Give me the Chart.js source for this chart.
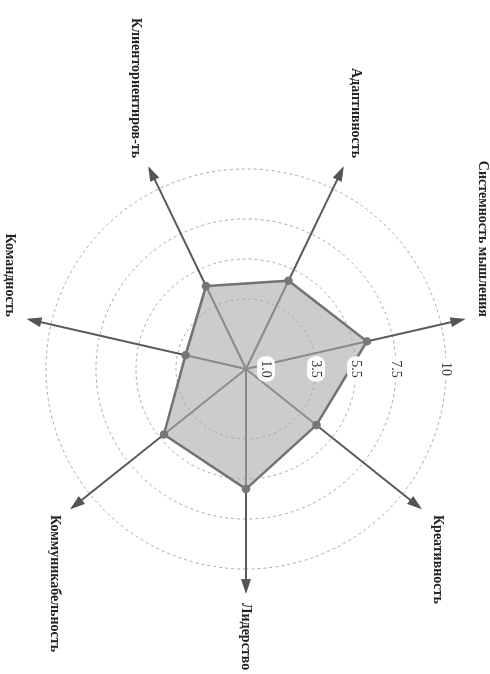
<!DOCTYPE html>
<html>
<head>
<meta charset="utf-8">
<script src="https://cdn.jsdelivr.net/npm/chart.js@4"></script>
<style>
  html, body { margin: 0; padding: 0; background: #fff; overflow: hidden; }
  body { width: 490px; height: 674px; position: relative; }
  #wrap { position: absolute; left: -115px; top: 118px; width: 720px; height: 490px; transform: rotate(90deg); }
</style>
</head>
<body>
<div id="wrap"><canvas id="radarChart" width="720" height="490"></canvas></div>
<script>
const categories = ['Системность мышления', 'Креативность', 'Лидерство', 'Коммуникабельность', 'Командность', 'Клиенториентиров-ть', 'Адаптивность'];
const scores = [6.2, 4.5, 6.0, 5.25, 3.1, 4.6, 4.9];
const tickValues = [1, 3.5, 5.5, 7.5, 10];
const tickLabels = ['1.0', '3.5', '5.5', '7.5', '10'];

document.addEventListener("DOMContentLoaded", function() {
    // arrowheads at the ends of the axis lines
    const arrowPlugin = {
        id: 'arrows',
        afterDraw(chart) {
            const s = chart.scales.r;
            const ctx = chart.ctx;
            const r = s.drawingArea;
            ctx.save();
            ctx.fillStyle = '#555';
            for (let i = 0; i < categories.length; i++) {
                const tip = s.getPointPosition(i, r + 3);
                const base = s.getPointPosition(i, r - 12);
                const dx = tip.x - base.x, dy = tip.y - base.y;
                const len = Math.hypot(dx, dy);
                const nx = -dy / len * 5, ny = dx / len * 5;
                ctx.beginPath();
                ctx.moveTo(tip.x, tip.y);
                ctx.lineTo(base.x + nx, base.y + ny);
                ctx.lineTo(base.x - nx, base.y - ny);
                ctx.closePath();
                ctx.fill();
            }
            ctx.restore();
        }
    };

    // scale values drawn straight up from the centre
    const tickPlugin = {
        id: 'tickText',
        afterDatasetsDraw(chart) {
            const s = chart.scales.r;
            const ctx = chart.ctx;
            ctx.save();
            ctx.font = '14px "Liberation Serif"';
            ctx.textAlign = 'center';
            ctx.textBaseline = 'middle';
            tickValues.forEach((v, i) => {
                const y = s.yCenter - s.getDistanceFromCenterForValue(v);
                const w = ctx.measureText(tickLabels[i]).width + 8;
                ctx.fillStyle = 'rgba(255,255,255,0.95)';
                ctx.beginPath();
                ctx.roundRect(s.xCenter - w / 2, y - 9, w, 18, 8);
                ctx.fill();
                ctx.fillStyle = '#333';
                ctx.fillText(tickLabels[i], s.xCenter, y);
            });
            ctx.restore();
        }
    };

    const ctx = document.getElementById('radarChart').getContext('2d');
    new Chart(ctx, {
        type: 'radar',
        data: {
            labels: categories,
            datasets: [{
                data: scores,
                backgroundColor: 'rgba(170,170,170,0.6)',
                borderColor: '#727272',
                borderWidth: 2.5,
                pointRadius: 3,
                pointBackgroundColor: '#777',
                pointBorderColor: '#777'
            }]
        },
        options: {
            responsive: false,
            animation: false,
            plugins: { legend: { display: false }, tooltip: { enabled: false } },
            scales: {
                r: {
                    min: 0,
                    max: 11.1,
                    startAngle: -90 / 7,
                    afterBuildTicks: (scale) => { scale.ticks = tickValues.map(v => ({ value: v })); },
                    ticks: { display: false },
                    grid: { color: '#a8a8a8', lineWidth: 1, circular: true },
                    border: { dash: [3, 3] },
                    angleLines: { color: '#5a5a5a', lineWidth: 2 },
                    pointLabels: {
                        padding: 12,
                        color: '#222',
                        font: { family: 'Liberation Serif', size: 14, weight: 'bold' }
                    }
                }
            }
        },
        plugins: [arrowPlugin, tickPlugin]
    });
});
</script>
</body>
</html>
